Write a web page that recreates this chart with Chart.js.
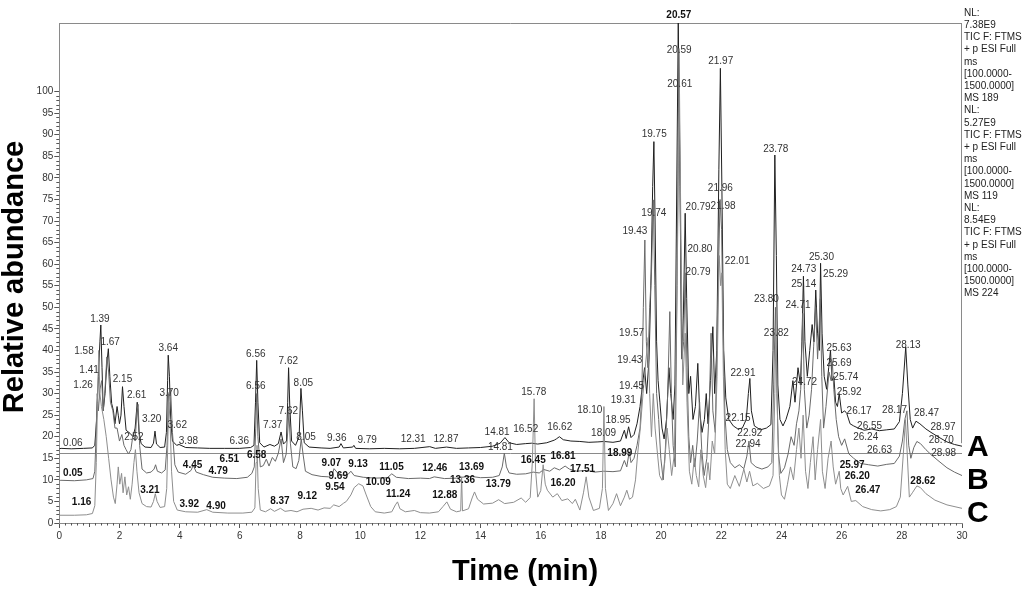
<!DOCTYPE html>
<html><head><meta charset="utf-8">
<script src="https://cdn.jsdelivr.net/npm/chart.js@4.4.1/dist/chart.umd.min.js"></script>
<style>html,body{margin:0;padding:0;background:#fff}canvas{display:block}</style>
</head><body>
<canvas id="c" width="1024" height="591" style="width:1024px;height:591px"></canvas>
<script>
// ---- data: [time (min), relative abundance] ----
const traceA = [[0,17.2],[0.06,17.3],[0.4,17.2],[0.8,17.3],[1.1,17.4],[1.18,18],[1.24,24],[1.3,34],[1.35,42],[1.38,45.9],[1.42,36],[1.46,26],[1.52,30],[1.58,37],[1.63,40.4],[1.68,34],[1.74,27.7],[1.8,26],[1.85,23],[1.92,27],[1.96,25],[2.0,23],[2.05,25],[2.1,31.6],[2.15,27],[2.22,21.5],[2.35,20.8],[2.45,20],[2.52,22],[2.59,28],[2.65,21],[2.72,18.4],[2.85,17.6],[3.05,17.5],[3.13,18.5],[3.18,21.3],[3.23,18.3],[3.35,17.5],[3.5,17.6],[3.56,21],[3.6,33],[3.62,38.9],[3.66,34],[3.7,24],[3.76,19],[3.9,18],[3.98,18.2],[4.2,17.5],[4.6,17.4],[5.0,17.3],[5.5,17.3],[6.0,17.3],[6.36,17.5],[6.47,18],[6.52,28],[6.56,37.7],[6.6,28],[6.66,18.6],[6.8,17.6],[7.0,18.2],[7.15,17.8],[7.28,18.4],[7.37,21.1],[7.45,18.3],[7.55,19],[7.59,28],[7.62,36],[7.66,27],[7.72,19],[7.85,18],[7.97,20],[8.03,31.2],[8.08,26],[8.14,18.6],[8.3,17.6],[8.7,17.4],[9.0,17.3],[9.3,17.6],[9.36,18.4],[9.44,17.4],[9.75,17.6],[9.79,18],[9.85,17.3],[10.3,17.2],[10.8,17.3],[11.3,17.2],[11.8,17.3],[12.31,17.7],[12.5,17.3],[12.87,17.6],[13.2,17.3],[13.6,17.4],[14.0,17.5],[14.4,17.8],[14.65,18.5],[14.81,19.8],[14.95,18.6],[15.2,18.2],[15.5,18.4],[15.7,18.5],[15.9,18.3],[16.2,18.6],[16.45,19.2],[16.52,19.5],[16.62,20],[16.75,19.3],[17.0,19],[17.3,18.9],[17.6,18.7],[17.9,18.8],[18.1,18.9],[18.4,18.7],[18.65,19],[18.78,21.5],[18.84,19.6],[18.92,22.3],[19.0,19.8],[19.1,20.5],[19.2,23],[19.3,27],[19.38,32],[19.45,36],[19.52,30],[19.6,38],[19.66,55],[19.72,78],[19.76,88.4],[19.8,70],[19.85,42],[19.9,33],[19.96,28],[20.03,22],[20.1,19.5],[20.18,24],[20.26,36],[20.32,30],[20.4,24],[20.46,32],[20.51,70],[20.57,116],[20.63,78],[20.68,38],[20.74,48],[20.8,71.8],[20.85,52],[20.92,30],[20.98,34],[21.06,24],[21.14,27],[21.22,37],[21.28,26],[21.36,21],[21.44,24],[21.5,30],[21.56,23],[21.64,33],[21.72,45.5],[21.78,30],[21.85,40],[21.92,82],[21.97,105.4],[22.02,78],[22.08,40],[22.15,29],[22.25,24],[22.4,22.5],[22.55,21.8],[22.7,22],[22.83,24],[22.9,30],[22.95,33.5],[23.0,26],[23.1,22.5],[23.3,21.6],[23.5,22],[23.65,22.8],[23.72,40],[23.78,85.3],[23.83,62],[23.88,32],[23.95,24],[24.05,22.5],[24.15,24],[24.28,27],[24.38,33],[24.45,28],[24.55,36],[24.63,32],[24.68,42],[24.73,57.2],[24.78,42],[24.86,34],[24.94,40],[25.02,46],[25.08,42],[25.14,54],[25.2,44],[25.26,40],[25.3,60.2],[25.35,44],[25.42,34],[25.5,31],[25.57,36],[25.63,40],[25.68,33],[25.74,34],[25.8,28],[25.86,27],[25.92,30],[26.0,25.5],[26.1,26],[26.17,25.4],[26.28,23],[26.4,22.5],[26.55,22],[26.75,21.5],[27.0,21.8],[27.25,21.4],[27.5,21.6],[27.75,21.8],[27.92,23.5],[28.02,30],[28.13,40.8],[28.2,32],[28.28,24],[28.36,22],[28.47,23.6],[28.6,23],[28.8,21.8],[28.97,21],[29.2,20],[29.5,18.8],[29.75,18.2],[30,17.8]];

const traceB = [[0,9.8],[0.05,9.9],[0.5,9.8],[0.9,10],[1.12,10.3],[1.18,12],[1.22,20],[1.26,30],[1.3,26],[1.35,31],[1.41,33],[1.46,26],[1.52,31],[1.58,38.5],[1.64,35],[1.7,28],[1.78,26],[1.85,22],[1.92,22],[2.0,19],[2.08,20.5],[2.15,18],[2.22,17],[2.3,16],[2.38,17],[2.46,21],[2.52,19],[2.58,26],[2.62,27.5],[2.67,18],[2.75,12.5],[2.9,11.6],[3.05,11.8],[3.15,12.5],[3.2,13.5],[3.26,12],[3.4,11.6],[3.52,12.3],[3.58,18],[3.63,30],[3.7,31],[3.76,21],[3.84,13.5],[3.95,11.8],[4.2,11.3],[4.38,12.2],[4.45,13.4],[4.55,11.8],[4.79,11.2],[5.1,10.6],[5.5,10.4],[5.9,10.3],[6.25,10.6],[6.4,11.5],[6.48,13],[6.53,22],[6.56,30],[6.6,20],[6.68,13],[6.78,13.3],[6.88,14.8],[6.97,13.2],[7.08,15.2],[7.18,14.3],[7.28,16.2],[7.37,19.5],[7.45,14],[7.54,16],[7.6,22],[7.63,25.5],[7.68,18.5],[7.76,13],[7.87,12.6],[7.96,14.5],[8.04,19.5],[8.1,16],[8.18,12],[8.4,11.2],[8.7,10.8],[8.95,10.7],[9.07,11.2],[9.13,12.6],[9.25,11.6],[9.45,11],[9.6,11.3],[9.69,12],[9.8,11],[10.1,10.6],[10.5,10.4],[10.9,10.5],[11.05,11.4],[11.2,10.6],[11.6,10.3],[12.0,10.4],[12.3,10.3],[12.46,10.7],[12.8,10.3],[13.2,10.4],[13.36,10.6],[13.69,10.8],[14.0,10.5],[14.4,10.6],[14.62,11],[14.72,13],[14.79,16.2],[14.86,13],[14.95,11.6],[15.2,11.3],[15.5,11.4],[15.75,11.8],[15.95,11.6],[16.1,12.4],[16.3,12],[16.45,12.8],[16.62,12.3],[16.81,13.2],[16.95,12.5],[17.2,12],[17.51,12.2],[17.8,11.8],[18.09,12],[18.4,11.9],[18.65,12.1],[18.78,14.5],[18.86,13],[18.94,16.5],[19.0,14],[19.1,15],[19.2,18],[19.3,22],[19.36,30],[19.41,50],[19.46,65.6],[19.51,42],[19.56,36],[19.62,50],[19.68,58],[19.74,74.9],[19.79,55],[19.85,30],[19.92,24],[19.99,15],[20.07,10],[20.14,17],[20.22,30],[20.29,49],[20.34,30],[20.4,18],[20.47,13],[20.53,55],[20.59,110],[20.64,72],[20.69,38],[20.75,42],[20.8,58],[20.86,36],[20.92,20],[20.98,14],[21.05,18],[21.12,13],[21.2,19],[21.28,28],[21.35,17],[21.43,11],[21.52,15],[21.6,26],[21.66,44],[21.72,26],[21.8,21],[21.88,50],[21.96,75],[22.01,68],[22.06,45],[22.12,25],[22.2,17],[22.3,14],[22.45,12.8],[22.6,13.5],[22.75,12.6],[22.85,15.5],[22.92,19],[22.99,14],[23.15,13],[23.35,12.5],[23.55,13],[23.68,14],[23.74,32],[23.8,50],[23.85,30],[23.9,16],[23.98,11.5],[24.1,12.8],[24.22,16],[24.32,20],[24.42,18],[24.5,23],[24.58,26],[24.64,31],[24.71,48.6],[24.76,31],[24.84,22],[24.92,25],[25.0,31],[25.07,41],[25.14,50],[25.2,38],[25.25,45],[25.29,52],[25.34,34],[25.4,22],[25.48,27],[25.58,35],[25.65,33],[25.69,37.4],[25.74,31],[25.82,24],[25.9,20],[26.0,18],[26.1,19.5],[26.24,16],[26.4,15],[26.63,13.8],[26.9,13.5],[27.2,13.2],[27.5,13.6],[27.75,13.8],[27.92,15.5],[28.02,19],[28.1,24],[28.17,26],[28.23,18],[28.3,15],[28.4,17.5],[28.5,18.9],[28.62,18.4],[28.8,17],[28.98,15.8],[29.2,14.5],[29.5,12.8],[29.75,11.8],[30,11]];

const traceC = [[0,1.8],[0.5,1.8],[0.9,1.9],[1.1,2.2],[1.18,4],[1.23,14],[1.27,28],[1.31,40],[1.35,30],[1.4,27],[1.48,24],[1.56,20],[1.64,15],[1.72,10],[1.8,6],[1.86,4.5],[1.92,9],[1.96,13],[2.01,9],[2.07,11.5],[2.12,7],[2.18,10.7],[2.24,6.5],[2.3,8.4],[2.36,5.5],[2.42,9],[2.48,14],[2.53,17],[2.58,12],[2.65,7],[2.75,4.5],[2.9,3.8],[3.05,3.7],[3.13,5],[3.19,6.8],[3.25,5],[3.35,3.6],[3.5,3.8],[3.57,8],[3.61,20],[3.64,28],[3.68,24],[3.73,12],[3.8,5],[3.92,3],[4.2,2.6],[4.6,2.5],[4.9,3.1],[5.1,2.5],[5.6,2.3],[6.1,2.3],[6.4,2.5],[6.5,3.5],[6.54,14],[6.57,18],[6.61,8],[6.68,3],[6.85,2.6],[7.02,3.3],[7.15,2.7],[7.35,3.4],[7.5,2.7],[7.7,2.9],[7.9,2.6],[8.1,3.2],[8.37,3.4],[8.6,3],[8.8,3.5],[9.0,3.4],[9.12,4.2],[9.3,3.8],[9.45,4.6],[9.54,5],[9.69,6.5],[9.8,8.2],[9.95,9.1],[10.09,8.6],[10.2,6.5],[10.35,3.8],[10.5,2.6],[10.8,2.3],[11.05,2.6],[11.17,4.2],[11.24,4.9],[11.32,3.3],[11.5,2.6],[11.8,2.9],[12.0,2.4],[12.3,2.3],[12.6,2.6],[12.75,3.8],[12.88,4.9],[13.0,3.2],[13.2,2.6],[13.34,2.8],[13.37,10.7],[13.4,2.8],[13.6,3.3],[13.72,5.8],[13.8,7.2],[13.9,5.5],[14.1,4.4],[14.4,4.6],[14.6,5.4],[14.8,4.5],[15.1,4.8],[15.35,5.8],[15.5,4.8],[15.65,5.9],[15.72,14],[15.78,28.8],[15.83,12],[15.9,6],[16.0,7.5],[16.08,13.5],[16.15,9],[16.22,7.6],[16.4,6],[16.55,6.8],[16.7,5.2],[16.9,5.6],[17.05,4.5],[17.15,5.5],[17.3,3],[17.42,7],[17.51,10.7],[17.6,6],[17.75,2.9],[17.95,3.4],[18.05,8],[18.1,27],[18.15,8],[18.25,2.9],[18.4,4.5],[18.52,6.8],[18.65,4],[18.78,6],[18.86,7.6],[18.95,5.5],[19.05,6],[19.15,10],[19.22,16],[19.31,22],[19.4,30],[19.5,38],[19.57,43],[19.62,30],[19.68,20],[19.74,30],[19.8,22],[19.88,16],[19.95,11],[20.03,9.9],[20.12,14],[20.2,22],[20.27,17],[20.35,11],[20.44,16],[20.53,55],[20.61,101],[20.66,66],[20.72,32],[20.8,44],[20.86,28],[20.94,12],[21.02,9],[21.1,15],[21.17,11],[21.25,8.4],[21.32,17],[21.4,11],[21.48,8.2],[21.56,14],[21.62,10],[21.7,19],[21.78,16],[21.86,34],[21.93,62],[21.98,55],[22.02,58],[22.07,34],[22.13,17],[22.2,9],[22.3,8],[22.45,11],[22.6,8.5],[22.75,12.5],[22.85,9.5],[22.94,12],[23.05,8.6],[23.2,9.2],[23.4,8],[23.6,8.6],[23.72,11],[23.78,30],[23.82,43.9],[23.87,24],[23.93,11],[24.0,6.5],[24.1,5.5],[24.2,9],[24.3,13],[24.4,10],[24.5,17],[24.58,22],[24.65,15],[24.72,25],[24.8,12],[24.88,8],[24.96,14],[25.05,20],[25.12,10],[25.2,17],[25.3,24],[25.36,12],[25.45,8],[25.55,15],[25.65,19],[25.72,13],[25.8,9],[25.92,12],[25.97,8],[26.05,6.5],[26.2,8.5],[26.32,5],[26.47,5.2],[26.7,3.8],[27.0,3.1],[27.3,2.8],[27.6,3.1],[27.82,3.8],[27.95,6],[28.05,16],[28.12,24],[28.18,16],[28.25,6],[28.35,7],[28.5,8.6],[28.62,8.2],[28.8,6.8],[29.1,5.3],[29.5,4.2],[30,3.4]];

// peak labels: [text, time, abundance]
const peakLabelsPlain = [["1.39",1.35,47.2],["1.58",0.82,39.7],["1.67",1.69,41.8],["1.41",0.99,35.3],["1.26",0.79,31.9],["2.15",2.1,33.3],["2.61",2.57,29.6],["3.20",3.07,24],["3.64",3.62,40.5],["3.70",3.65,30],["3.62",3.92,22.6],["2.52",2.48,19.8],["3.98",4.29,19],["0.06",0.45,18.6],["6.36",5.98,19],["6.56",6.53,39.1],["6.56",6.53,31.6],["7.37",7.09,22.7],["7.62",7.61,37.5],["7.62",7.61,25.8],["8.05",8.11,32.3],["8.05",8.2,19.8],["9.36",9.22,19.6],["9.79",10.23,19.2],["12.31",11.76,19.3],["12.87",12.85,19.3],["14.81",14.55,21.1],["14.81",14.66,17.5],["15.78",15.77,30.2],["16.52",15.5,21.7],["16.62",16.63,22.1],["18.10",17.63,26.1],["18.09",18.09,20.9],["18.95",18.57,23.8],["19.31",18.74,28.5],["19.45",19.02,31.7],["19.43",18.96,37.7],["19.57",19.02,43.9],["20.59",20.6,109.5],["20.61",20.62,101.6],["21.97",21.98,107],["19.75",19.77,90],["23.78",23.81,86.6],["21.96",21.97,77.6],["21.98",22.06,73.5],["20.79",21.23,73.2],["19.74",19.76,71.8],["19.43",19.13,67.7],["20.80",21.29,63.4],["22.01",22.53,60.7],["20.79",21.23,58.2],["25.30",25.33,61.7],["24.73",24.74,58.8],["25.29",25.8,57.7],["25.14",24.74,55.4],["23.80",23.5,51.8],["24.71",24.55,50.5],["23.82",23.83,43.9],["22.91",22.72,34.8],["25.63",25.91,40.5],["25.69",25.91,37.1],["25.74",26.14,33.9],["25.92",26.25,30.2],["26.17",26.58,25.8],["26.55",26.93,22.4],["24.72",24.77,32.7],["26.24",26.8,19.8],["26.63",27.26,16.9],["28.13",28.21,41.2],["28.17",27.76,26.1],["28.47",28.82,25.5],["28.97",29.37,22.3],["28.70",29.31,19.2],["28.98",29.39,16.2],["22.15",22.56,24.2],["22.92",22.95,20.7],["22.94",22.89,18.2]];
const peakLabelsBold = [["20.57",20.59,117.6],["0.05",0.45,11.5],["1.16",0.74,4.9],["4.45",4.43,13.5],["4.79",5.28,12],["3.21",3.01,7.6],["3.92",4.32,4.3],["4.90",5.21,3.9],["6.51",5.65,14.7],["6.58",6.56,15.7],["8.37",7.33,5],["9.12",8.24,6.2],["9.07",9.04,13.9],["9.13",9.93,13.6],["9.69",9.27,10.8],["9.54",9.16,8.4],["10.09",10.6,9.5],["11.05",11.04,13],["11.24",11.26,6.7],["12.46",12.48,12.6],["12.88",12.81,6.4],["13.36",13.4,9.9],["13.69",13.7,13],["13.79",14.59,9],["16.45",15.75,14.5],["16.81",16.74,15.5],["17.51",17.39,12.4],["16.20",16.74,9.3],["18.99",18.63,16.1],["25.97",26.35,13.4],["26.20",26.52,10.8],["26.47",26.87,7.6],["28.62",28.7,9.7]];

const yTickValues = [0,5,10,15,20,25,30,35,40,45,50,55,60,65,70,75,80,85,90,95,100];
const xTickValues = [0,2,4,6,8,10,12,14,16,18,20,22,24,26,28,30];
const traceNames = ["A","B","C"];
const traceNameLevels = [17.5, 9.8, 2.2];
const sideText = ["NL:","7.38E9","TIC F: FTMS","+ p ESI Full","ms","[100.0000-","1500.0000]","MS 189",
                  "NL:","5.27E9","TIC F: FTMS","+ p ESI Full","ms","[100.0000-","1500.0000]","MS 119",
                  "NL:","8.54E9","TIC F: FTMS","+ p ESI Full","ms","[100.0000-","1500.0000]","MS 224"];
const refLineValue = 16.3;
const frameEndValue = 18.5;
const X_MAX = 30, Y_MAX = 115.9;

const FF = '"Liberation Sans", Arial, Helvetica, sans-serif';
const toXY = arr => arr.map(p => ({x:p[0], y:p[1]}));

const deco = {
  id:'deco',
  beforeDatasetsDraw(chart){
    const {ctx, chartArea:a, scales:{x,y}} = chart;
    ctx.save();
    ctx.strokeStyle = '#8a8a8a'; ctx.lineWidth = 1;
    ctx.beginPath();
    ctx.moveTo(a.left, a.top+0.5); ctx.lineTo(a.right, a.top+0.5);
    ctx.moveTo(a.right-0.5, a.top); ctx.lineTo(a.right-0.5, y.getPixelForValue(frameEndValue));
    const ry = Math.round(y.getPixelForValue(refLineValue))+0.5;
    ctx.moveTo(a.left, ry); ctx.lineTo(a.right, ry);
    ctx.stroke();
    // minor ticks
    ctx.strokeStyle = '#555';
    ctx.beginPath();
    for (let v=0; v<=100; v++){
      if (v%5===0) continue;
      const py = Math.round(y.getPixelForValue(v))+0.5;
      ctx.moveTo(a.left-3, py); ctx.lineTo(a.left, py);
    }
    for (let i=0; i<=150; i++){
      const t = i*0.2;
      if (i%10===0) continue;
      const px = Math.round(x.getPixelForValue(t))+0.5;
      const len = (i%5===0) ? 4 : 2.5;
      ctx.moveTo(px, a.bottom); ctx.lineTo(px, a.bottom+len);
    }
    ctx.stroke();
    ctx.restore();
  },
  afterDraw(chart){
    const {ctx, chartArea:a, scales:{x,y}} = chart;
    ctx.save();
    ctx.textAlign='center'; ctx.textBaseline='middle';
    ctx.font = '10px '+FF; ctx.fillStyle = '#333';
    peakLabelsPlain.forEach(l => ctx.fillText(l[0], x.getPixelForValue(l[1]), y.getPixelForValue(l[2])));
    ctx.font = 'bold 10px '+FF; ctx.fillStyle = '#111';
    peakLabelsBold.forEach(l => ctx.fillText(l[0], x.getPixelForValue(l[1]), y.getPixelForValue(l[2])));
    // side text
    ctx.textAlign='left'; ctx.textBaseline='middle';
    ctx.font = '10px '+FF; ctx.fillStyle = '#222';
    sideText.forEach((s,i) => ctx.fillText(s, a.right+2, 13 + i*12.2));
    // trace names
    ctx.font = 'bold 30px '+FF; ctx.fillStyle = '#000'; ctx.textBaseline='alphabetic';
    traceNames.forEach((n,i) => ctx.fillText(n, a.right+5, y.getPixelForValue(traceNameLevels[i]) + 8));
    // axis titles
    ctx.font = 'bold 29px '+FF; ctx.fillStyle = '#000'; ctx.textAlign='center';
    ctx.fillText('Time (min)', 525, 580);
    ctx.translate(23, 277); ctx.rotate(-Math.PI/2);
    ctx.fillText('Relative abundance', 0, 0);
    ctx.restore();
  }
};

new Chart(document.getElementById('c'), {
  type:'line',
  data:{datasets:[
    {label:'C', data:toXY(traceC), borderColor:'#8e8e8e'},
    {label:'B', data:toXY(traceB), borderColor:'#6a6a6a'},
    {label:'A', data:toXY(traceA), borderColor:'#202020'}
  ]},
  options:{
    responsive:false, animation:false, devicePixelRatio:1,
    layout:{padding:{left:0, right:62, top:23, bottom:0}},
    elements:{point:{radius:0}, line:{borderWidth:1, tension:0}},
    plugins:{legend:{display:false}, tooltip:{enabled:false}},
    scales:{
      x:{type:'linear', min:0, max:X_MAX,
        afterFit(s){ s.height = 68; },
        afterBuildTicks(s){ s.ticks = xTickValues.map(v=>({value:v})); },
        ticks:{font:{size:10, family:FF}, color:'#333', padding:2, maxRotation:0, autoSkip:false},
        grid:{drawOnChartArea:false, tickLength:5, color:'#555'},
        border:{color:'#8a8a8a'}},
      y:{type:'linear', min:0, max:Y_MAX,
        afterFit(s){ s.width = 59.3; },
        afterBuildTicks(s){ s.ticks = yTickValues.map(v=>({value:v})); },
        ticks:{font:{size:10, family:FF}, color:'#333', padding:1, autoSkip:false},
        grid:{drawOnChartArea:false, tickLength:5, color:'#555'},
        border:{color:'#8a8a8a'}}
    }
  },
  plugins:[deco]
});
</script>
</body></html>
